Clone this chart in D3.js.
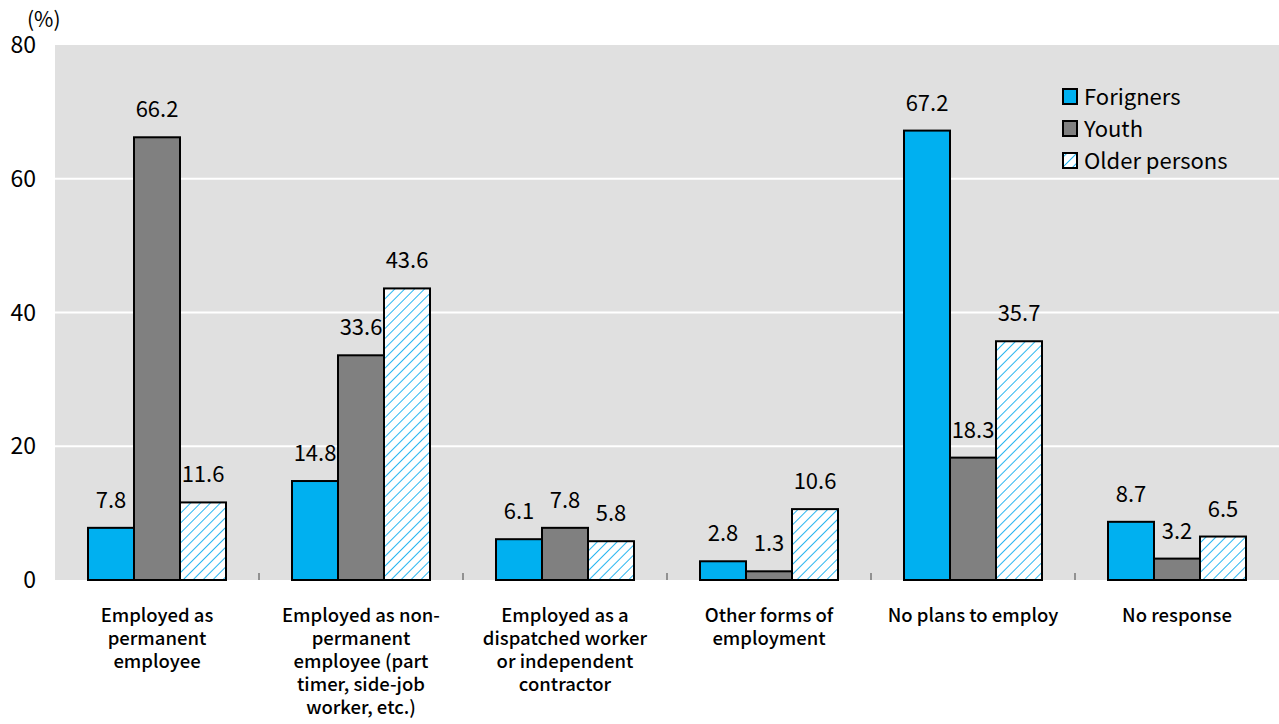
<!DOCTYPE html>
<html>
<head>
<meta charset="utf-8">
<script src="https://cdn.jsdelivr.net/npm/d3@7"></script>
<style>
  body { margin: 0; background: #fff; }
  svg text { font-family: "Noto Sans CJK JP", "Noto Sans", sans-serif; fill: #000; }
</style>
</head>
<body>
<div id="chart"></div>
<script>
"use strict";

// categories (x-axis), split into lines as in the source
const categories = [
  ["Employed as", "permanent", "employee"],
  ["Employed as non-", "permanent", "employee (part", "timer, side-job", "worker, etc.)"],
  ["Employed as a", "dispatched worker", "or independent", "contractor"],
  ["Other forms of", "employment"],
  ["No plans to employ"],
  ["No response"]
];
const seriesNames = ["Forigners", "Youth", "Older persons"];
const foreigners = [7.8, 14.8, 6.1, 2.8, 67.2, 8.7];
const youth = [66.2, 33.6, 7.8, 1.3, 18.3, 3.2];
const older = [11.6, 43.6, 5.8, 10.6, 35.7, 6.5];
const yTicks = [0, 20, 40, 60, 80];

const allSeries = [foreigners, youth, older];
const fills = ["#00b0f0", "#808080", "url(#hatch)"];

const W = 1279, H = 724;
const plot = { left: 55, right: 1279, top: 45, bottom: 580 };

const svg = d3.select("#chart").append("svg")
  .attr("width", W).attr("height", H);

const defs = svg.append("defs");
const pat = defs.append("pattern")
  .attr("id", "hatch")
  .attr("patternUnits", "userSpaceOnUse")
  .attr("width", 7).attr("height", 7)
  .attr("patternTransform", "rotate(45)");
pat.append("rect").attr("width", 7).attr("height", 7).attr("fill", "#fff");
pat.append("line").attr("x1", 0).attr("y1", 0).attr("x2", 0).attr("y2", 7)
  .attr("stroke", "#29b6f0").attr("stroke-width", 2);

const x0 = d3.scaleBand().domain(d3.range(categories.length))
  .range([plot.left, plot.right]).paddingInner(0).paddingOuter(0);
const x1 = d3.scaleBand().domain(d3.range(3))
  .range([33, x0.bandwidth() - 33]);
const y = d3.scaleLinear().domain([0, 80]).range([plot.bottom, plot.top]);

// background
svg.append("rect")
  .attr("x", plot.left).attr("y", plot.top)
  .attr("width", plot.right - plot.left).attr("height", plot.bottom - plot.top)
  .attr("fill", "#e0e0e0");

// gridlines
svg.selectAll("line.grid").data(yTicks.filter(t => t > 0 && t < 80)).enter()
  .append("line").attr("class", "grid")
  .attr("x1", plot.left).attr("x2", plot.right)
  .attr("y1", d => y(d)).attr("y2", d => y(d))
  .attr("stroke", "#fff").attr("stroke-width", 2);

// y tick labels
svg.selectAll("text.ytick").data(yTicks).enter()
  .append("text").attr("class", "ytick")
  .attr("x", 36).attr("y", d => y(d) + 8)
  .attr("text-anchor", "end")
  .attr("font-size", 23)
  .text(d => d);

svg.append("text").attr("x", 27).attr("y", 27).attr("font-size", 21).text("(%)");

// separator ticks on x axis
svg.selectAll("line.xtick").data(d3.range(1, categories.length)).enter()
  .append("line").attr("class", "xtick")
  .attr("x1", d => x0(d)).attr("x2", d => x0(d))
  .attr("y1", plot.bottom).attr("y2", plot.bottom - 7)
  .attr("stroke", "#777").attr("stroke-width", 1.5);

// bars
allSeries.forEach((vals, s) => {
  const g = svg.append("g");
  g.selectAll("rect").data(vals).enter().append("rect")
    .attr("x", (d, i) => x0(i) + x1(s))
    .attr("y", d => y(d))
    .attr("width", x1.bandwidth())
    .attr("height", d => y(0) - y(d))
    .attr("fill", fills[s])
    .attr("stroke", "#000").attr("stroke-width", 2);
  g.selectAll("text").data(vals).enter().append("text")
    .attr("x", (d, i) => x0(i) + x1(s) + x1.bandwidth() / 2)
    .attr("y", d => y(d) - 20)
    .attr("text-anchor", "middle")
    .attr("font-size", 22)
    .text(d => d.toFixed(1));
});

// x category labels
categories.forEach((lines, i) => {
  const t = svg.append("text")
    .attr("text-anchor", "middle")
    .attr("font-size", 18.5)
    .attr("font-weight", 500);
  lines.forEach((ln, k) => {
    t.append("tspan")
      .attr("x", x0(i) + x0.bandwidth() / 2)
      .attr("y", 622 + k * 23)
      .text(ln);
  });
});

// legend
const leg = svg.append("g").attr("transform", "translate(1063, 97)");
seriesNames.forEach((name, i) => {
  leg.append("rect")
    .attr("x", 0).attr("y", i * 32 - 8)
    .attr("width", 14).attr("height", 15)
    .attr("fill", fills[i])
    .attr("stroke", "#000").attr("stroke-width", 2);
  leg.append("text")
    .attr("x", 21).attr("y", i * 32 + 8)
    .attr("font-size", 22)
    .text(name);
});
</script>
</body>
</html>
